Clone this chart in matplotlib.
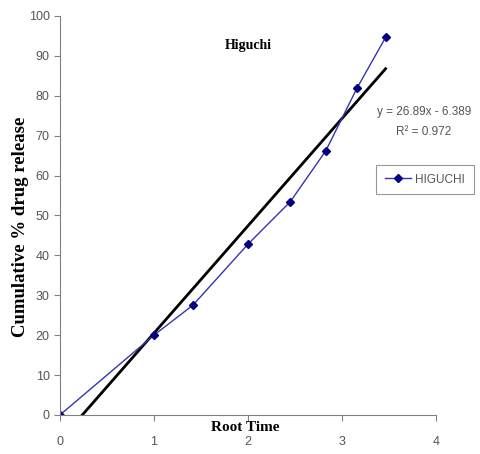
import matplotlib.pyplot as plt
import numpy as np

root_time = [0, 1, 1.414, 2, 2.449, 2.828, 3.162, 3.464]
release = [0, 20, 27.5, 42.8, 53.4, 66.2, 82.0, 94.6]
slope = 26.89
intercept = -6.389
x_ticks = [0, 1, 2, 3, 4]
y_ticks = list(range(0, 101, 10))

serif = ["Liberation Serif", "DejaVu Serif"]
sans = ["Liberation Sans", "DejaVu Sans"]
grey = "#808080"

fig = plt.figure(figsize=(4.81, 4.54), dpi=100)
ax = fig.add_axes([0.1247, 0.086, 0.7817, 0.879])

# fitted line (clipped by the y axis at 0)
xt = np.array([0, root_time[-1]])
ax.plot(xt, slope * xt + intercept, color="black", linewidth=2)

ax.plot(root_time, release, color="#3535b0", linewidth=1,
        marker="D", markersize=4, markerfacecolor="#000080",
        markeredgecolor="#000080", label="HIGUCHI")

ax.set_xlim(0, 4)
ax.set_ylim(0, 100)
ax.set_xticks(x_ticks)
ax.set_yticks(y_ticks)
for s in ["top", "right"]:
    ax.spines[s].set_visible(False)
for s in ["left", "bottom"]:
    ax.spines[s].set_color(grey)
ax.tick_params(colors=grey, labelcolor="#555555", length=4, labelsize=9)
for lab in ax.get_xticklabels() + ax.get_yticklabels():
    lab.set_family(sans)
ax.tick_params(axis="x", pad=11.5)

ax.text(0.5, 0.925, "Higuchi", transform=ax.transAxes, ha="center", va="center",
        family=serif, fontweight="bold", fontsize=10)
fig.text(0.043, 0.50, "Cumulative % drug release", rotation=90, ha="center",
         va="center", family=serif, fontweight="bold", fontsize=13.5)
fig.text(0.51, 0.058, "Root Time", ha="center", va="center",
         family=serif, fontweight="bold", fontsize=11)

ax.text(3.87, 73.5, "y = 26.89x - 6.389\nR² = 0.972", ha="center", va="center",
        family=sans, fontsize=8.5, color="#555555", linespacing=1.9,
        clip_on=False)

leg = ax.legend(loc="upper left", bbox_to_anchor=(0.84, 0.627), frameon=True,
                fancybox=False, prop={"family": sans, "size": 8.5},
                handlelength=2.2, borderpad=0.75, handletextpad=0.4,
                borderaxespad=0, labelcolor="#555555")
leg.get_frame().set_edgecolor(grey)
leg.get_frame().set_linewidth(0.8)

fig.savefig("out.png", dpi=100)
